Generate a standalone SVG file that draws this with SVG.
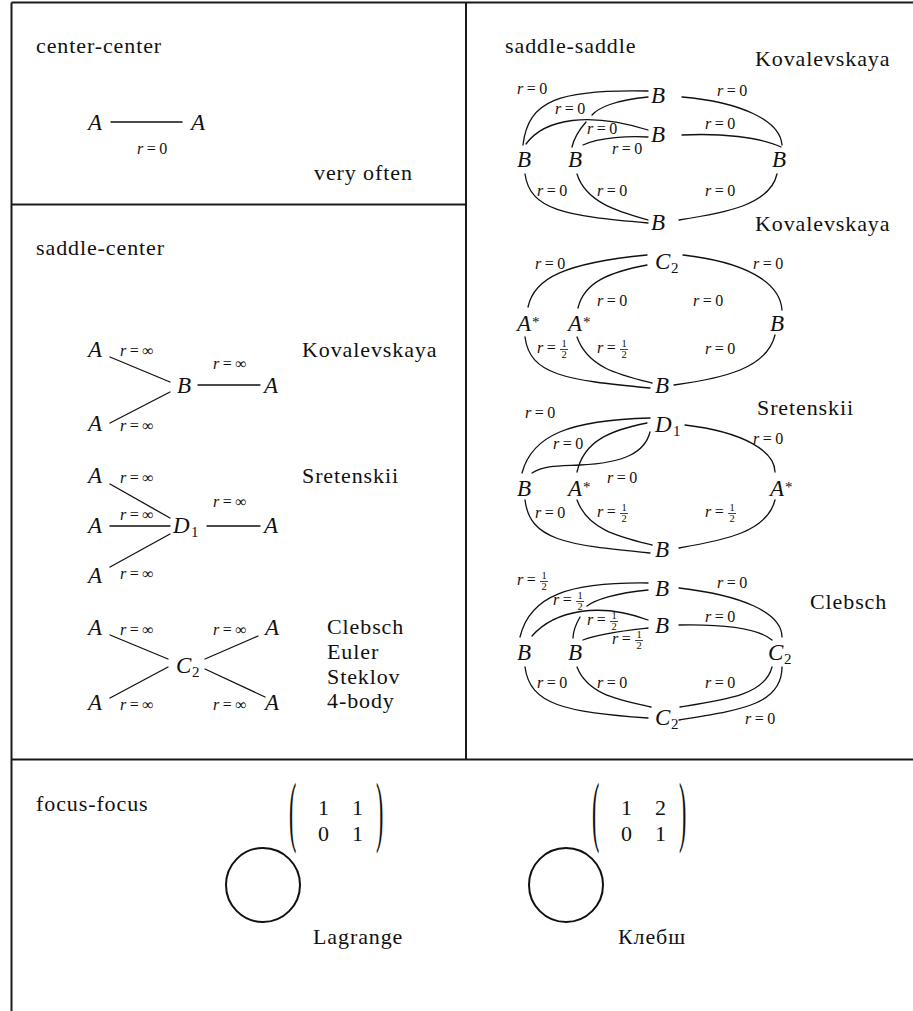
<svg xmlns="http://www.w3.org/2000/svg" width="913" height="1011" viewBox="0 0 913 1011" font-family="Liberation Serif">
<style>
.fl{stroke:#1a1a1a;stroke-width:2;fill:none}
.e{stroke:#111;stroke-width:1.3;fill:none;stroke-linecap:round}
.bar{stroke:#111;stroke-width:0.8}
.ring{fill:none;stroke:#111;stroke-width:2}
</style>
<rect width="913" height="1011" fill="#fff"/>
<g id="frame">
<path class="fl" d="M11.5,2.5 H913 M11.5,2.5 V1011 M466,2.5 V759.5 M11.5,204.5 H466 M11.5,759.5 H913"/>
</g>
<g id="titles" font-family="Liberation Serif" font-size="22" letter-spacing="0.9" fill="#111">
<text id="t-cc" font-family="Liberation Serif" x="36" y="53">center-center</text>
<text id="t-vo" font-family="Liberation Serif" x="314" y="180">very often</text>
<text id="t-sc" font-family="Liberation Serif" x="36" y="255">saddle-center</text>
<text id="t-kov1" font-family="Liberation Serif" x="302" y="357">Kovalevskaya</text>
<text id="t-sre1" font-family="Liberation Serif" x="302" y="483">Sretenskii</text>
<text id="t-cl1" font-family="Liberation Serif" x="327" y="634">Clebsch</text>
<text id="t-eu" font-family="Liberation Serif" x="327" y="659">Euler</text>
<text id="t-st" font-family="Liberation Serif" x="327" y="684">Steklov</text>
<text id="t-4b" font-family="Liberation Serif" x="327" y="708">4-body</text>
<text id="t-ss" font-family="Liberation Serif" x="505" y="53">saddle-saddle</text>
<text id="t-kov2" font-family="Liberation Serif" x="755" y="66">Kovalevskaya</text>
<text id="t-kov3" font-family="Liberation Serif" x="755" y="231">Kovalevskaya</text>
<text id="t-sre2" font-family="Liberation Serif" x="757" y="415">Sretenskii</text>
<text id="t-cl2" font-family="Liberation Serif" x="810" y="609">Clebsch</text>
<text id="t-ff" font-family="Liberation Serif" x="36" y="811">focus-focus</text>
</g>
<g id="connectors">
<path class="e" d="M111,122 H182"/>
<path class="e" d="M110,357 L170,382 M110,423 L170,392 M198,385 H260"/>
<path class="e" d="M110,484 L170,518 M110,526 H170 M110,567 L170,534 M207,526 H260"/>
<path class="e" d="M110,635 L168,659 M110,698 L168,667 M205,659 L258,636 M205,669 L265,697"/>
<path class="e" d="M523,145 C528,100 560,89 648,91"/>
<path class="e" d="M648,97 C615,100 598,108 592,115"/>
<path class="e" d="M586,122 C579,130 574,138 572,147"/>
<path class="e" d="M526,144 C545,118 590,112 648,130"/>
<path class="e" d="M583,145 C600,137 630,136 648,137"/>
<path class="e" d="M682,135 C720,133 760,137 781,147"/>
<path class="e" d="M682,97 C740,102 780,120 782,145"/>
<path class="e" d="M525,174 C530,210 565,216 648,223"/>
<path class="e" d="M577,174 C586,203 620,212 648,220"/>
<path class="e" d="M777,174 C770,205 725,213 679,220"/>
<path class="e" d="M528,307 C534,278 565,263 647,255"/>
<path class="e" d="M578,308 C584,282 610,272 647,265"/>
<path class="e" d="M683,255 C745,262 780,282 782,310"/>
<path class="e" d="M525,337 C530,375 565,380 650,388"/>
<path class="e" d="M577,337 C588,368 620,375 652,383"/>
<path class="e" d="M775,335 C767,368 725,378 674,385"/>
<path class="e" d="M522,473 C532,435 570,420 650,418"/>
<path class="e" d="M577,472 C584,440 612,430 647,423"/>
<path class="e" d="M532,473 C545,465 560,466 580,465 C625,463 645,452 650,432"/>
<path class="e" d="M685,425 C745,432 775,452 775,472"/>
<path class="e" d="M525,500 C530,540 565,545 650,553"/>
<path class="e" d="M577,500 C588,530 620,537 652,545"/>
<path class="e" d="M775,500 C767,532 725,540 679,548"/>
<path class="e" d="M520,637 C530,595 570,582 648,583"/>
<path class="e" d="M648,590 C615,593 595,600 587,606"/>
<path class="e" d="M580,617 C576,624 573,631 573,638"/>
<path class="e" d="M532,636 C555,610 600,602 648,620"/>
<path class="e" d="M583,640 C600,633 630,630 648,628"/>
<path class="e" d="M679,625 C730,624 760,630 772,640"/>
<path class="e" d="M679,588 C740,595 782,612 782,637"/>
<path class="e" d="M525,667 C530,705 565,712 648,718"/>
<path class="e" d="M577,667 C588,695 620,700 651,707"/>
<path class="e" d="M772,667 C765,695 725,700 680,707"/>
<path class="e" d="M782,667 C782,705 740,710 679,720"/>
</g>
<g id="edge-labels" font-family="Liberation Serif" font-size="16" letter-spacing="3.5" fill="#111">
<text font-family="Liberation Serif" x="137" y="154"><tspan font-style="italic">r</tspan>=0</text>
<text font-family="Liberation Serif" x="120" y="356"><tspan font-style="italic">r</tspan>=∞</text>
<text font-family="Liberation Serif" x="213" y="369"><tspan font-style="italic">r</tspan>=∞</text>
<text font-family="Liberation Serif" x="120" y="431"><tspan font-style="italic">r</tspan>=∞</text>
<text font-family="Liberation Serif" x="120" y="483"><tspan font-style="italic">r</tspan>=∞</text>
<text font-family="Liberation Serif" x="120" y="520"><tspan font-style="italic">r</tspan>=∞</text>
<text font-family="Liberation Serif" x="213" y="507"><tspan font-style="italic">r</tspan>=∞</text>
<text font-family="Liberation Serif" x="120" y="579"><tspan font-style="italic">r</tspan>=∞</text>
<text font-family="Liberation Serif" x="120" y="635"><tspan font-style="italic">r</tspan>=∞</text>
<text font-family="Liberation Serif" x="213" y="635"><tspan font-style="italic">r</tspan>=∞</text>
<text font-family="Liberation Serif" x="120" y="710"><tspan font-style="italic">r</tspan>=∞</text>
<text font-family="Liberation Serif" x="213" y="710"><tspan font-style="italic">r</tspan>=∞</text>
<text font-family="Liberation Serif" x="517" y="94"><tspan font-style="italic">r</tspan>=0</text>
<text font-family="Liberation Serif" x="555" y="114"><tspan font-style="italic">r</tspan>=0</text>
<text font-family="Liberation Serif" x="587" y="134"><tspan font-style="italic">r</tspan>=0</text>
<text font-family="Liberation Serif" x="612" y="154"><tspan font-style="italic">r</tspan>=0</text>
<text font-family="Liberation Serif" x="705" y="129"><tspan font-style="italic">r</tspan>=0</text>
<text font-family="Liberation Serif" x="717" y="96"><tspan font-style="italic">r</tspan>=0</text>
<text font-family="Liberation Serif" x="537" y="196"><tspan font-style="italic">r</tspan>=0</text>
<text font-family="Liberation Serif" x="597" y="196"><tspan font-style="italic">r</tspan>=0</text>
<text font-family="Liberation Serif" x="705" y="196"><tspan font-style="italic">r</tspan>=0</text>
<text font-family="Liberation Serif" x="535" y="269"><tspan font-style="italic">r</tspan>=0</text>
<text font-family="Liberation Serif" x="753" y="269"><tspan font-style="italic">r</tspan>=0</text>
<text font-family="Liberation Serif" x="597" y="306"><tspan font-style="italic">r</tspan>=0</text>
<text font-family="Liberation Serif" x="693" y="306"><tspan font-style="italic">r</tspan>=0</text>
<text font-family="Liberation Serif" x="705" y="354"><tspan font-style="italic">r</tspan>=0</text>
<text font-family="Liberation Serif" x="525" y="418"><tspan font-style="italic">r</tspan>=0</text>
<text font-family="Liberation Serif" x="553" y="449"><tspan font-style="italic">r</tspan>=0</text>
<text font-family="Liberation Serif" x="607" y="483"><tspan font-style="italic">r</tspan>=0</text>
<text font-family="Liberation Serif" x="753" y="444"><tspan font-style="italic">r</tspan>=0</text>
<text font-family="Liberation Serif" x="535" y="518"><tspan font-style="italic">r</tspan>=0</text>
<text font-family="Liberation Serif" x="705" y="622"><tspan font-style="italic">r</tspan>=0</text>
<text font-family="Liberation Serif" x="717" y="588"><tspan font-style="italic">r</tspan>=0</text>
<text font-family="Liberation Serif" x="537" y="688"><tspan font-style="italic">r</tspan>=0</text>
<text font-family="Liberation Serif" x="597" y="688"><tspan font-style="italic">r</tspan>=0</text>
<text font-family="Liberation Serif" x="705" y="688"><tspan font-style="italic">r</tspan>=0</text>
<text font-family="Liberation Serif" x="745" y="724"><tspan font-style="italic">r</tspan>=0</text>
<text font-family="Liberation Serif" x="537" y="353"><tspan font-style="italic">r</tspan>=</text>
<text font-family="Liberation Serif" x="597" y="353"><tspan font-style="italic">r</tspan>=</text>
<text font-family="Liberation Serif" x="597" y="517"><tspan font-style="italic">r</tspan>=</text>
<text font-family="Liberation Serif" x="705" y="517"><tspan font-style="italic">r</tspan>=</text>
<text font-family="Liberation Serif" x="517" y="585"><tspan font-style="italic">r</tspan>=</text>
<text font-family="Liberation Serif" x="553" y="605"><tspan font-style="italic">r</tspan>=</text>
<text font-family="Liberation Serif" x="587" y="625"><tspan font-style="italic">r</tspan>=</text>
<text font-family="Liberation Serif" x="612" y="644"><tspan font-style="italic">r</tspan>=</text>
</g>
<g id="fractions" font-family="Liberation Serif" font-size="10.5" text-anchor="middle" fill="#111">
<text font-family="Liberation Serif" x="564" y="347">1</text><line class="bar" x1="560" y1="349.5" x2="568" y2="349.5"/><text font-family="Liberation Serif" x="564" y="358">2</text>
<text font-family="Liberation Serif" x="624" y="347">1</text><line class="bar" x1="620" y1="349.5" x2="628" y2="349.5"/><text font-family="Liberation Serif" x="624" y="358">2</text>
<text font-family="Liberation Serif" x="624" y="511">1</text><line class="bar" x1="620" y1="513.5" x2="628" y2="513.5"/><text font-family="Liberation Serif" x="624" y="522">2</text>
<text font-family="Liberation Serif" x="732" y="511">1</text><line class="bar" x1="728" y1="513.5" x2="736" y2="513.5"/><text font-family="Liberation Serif" x="732" y="522">2</text>
<text font-family="Liberation Serif" x="544" y="579">1</text><line class="bar" x1="540" y1="581.5" x2="548" y2="581.5"/><text font-family="Liberation Serif" x="544" y="590">2</text>
<text font-family="Liberation Serif" x="580" y="599">1</text><line class="bar" x1="576" y1="601.5" x2="584" y2="601.5"/><text font-family="Liberation Serif" x="580" y="610">2</text>
<text font-family="Liberation Serif" x="614" y="619">1</text><line class="bar" x1="610" y1="621.5" x2="618" y2="621.5"/><text font-family="Liberation Serif" x="614" y="630">2</text>
<text font-family="Liberation Serif" x="639" y="638">1</text><line class="bar" x1="635" y1="640.5" x2="643" y2="640.5"/><text font-family="Liberation Serif" x="639" y="649">2</text>
</g>
<g id="nodes" font-family="Liberation Serif" font-size="23" font-style="italic" fill="#111">
<g id="cc-A1"><text font-family="Liberation Serif" x="88" y="130">A</text></g>
<g id="cc-A2"><text font-family="Liberation Serif" x="191" y="130">A</text></g>
<g id="sk-A1"><text font-family="Liberation Serif" x="88" y="357">A</text></g>
<g id="sk-A2"><text font-family="Liberation Serif" x="88" y="431">A</text></g>
<g id="sk-B"><text font-family="Liberation Serif" x="177" y="393">B</text></g>
<g id="sk-A3"><text font-family="Liberation Serif" x="264" y="393">A</text></g>
<g id="ss-A1"><text font-family="Liberation Serif" x="88" y="483">A</text></g>
<g id="ss-A2"><text font-family="Liberation Serif" x="88" y="533">A</text></g>
<g id="ss-A3"><text font-family="Liberation Serif" x="88" y="583">A</text></g>
<g id="ss-D1"><text font-family="Liberation Serif" x="173" y="533">D</text><text font-family="Liberation Serif" x="191" y="537" font-size="15" font-style="normal">1</text></g>
<g id="ss-A4"><text font-family="Liberation Serif" x="264" y="533">A</text></g>
<g id="sc-A1"><text font-family="Liberation Serif" x="88" y="635">A</text></g>
<g id="sc-A2"><text font-family="Liberation Serif" x="88" y="710">A</text></g>
<g id="sc-C2"><text font-family="Liberation Serif" x="176" y="673">C</text><text font-family="Liberation Serif" x="192" y="677" font-size="15" font-style="normal">2</text></g>
<g id="sc-A3"><text font-family="Liberation Serif" x="265" y="635">A</text></g>
<g id="sc-A4"><text font-family="Liberation Serif" x="265" y="710">A</text></g>
<g id="k-Bt"><text font-family="Liberation Serif" x="651" y="103">B</text></g>
<g id="k-Bm"><text font-family="Liberation Serif" x="651" y="142">B</text></g>
<g id="k-Bl"><text font-family="Liberation Serif" x="517" y="167">B</text></g>
<g id="k-Bl2"><text font-family="Liberation Serif" x="568" y="167">B</text></g>
<g id="k-Br"><text font-family="Liberation Serif" x="772" y="167">B</text></g>
<g id="k-Bb"><text font-family="Liberation Serif" x="651" y="230">B</text></g>
<g id="k2-C2"><text font-family="Liberation Serif" x="655" y="269">C</text><text font-family="Liberation Serif" x="671" y="273" font-size="15" font-style="normal">2</text></g>
<g id="k2-A1"><text font-family="Liberation Serif" x="517" y="331">A</text><text font-family="Liberation Serif" x="532" y="327" font-size="15" font-style="normal">*</text></g>
<g id="k2-A2"><text font-family="Liberation Serif" x="568" y="331">A</text><text font-family="Liberation Serif" x="583" y="327" font-size="15" font-style="normal">*</text></g>
<g id="k2-Br"><text font-family="Liberation Serif" x="770" y="331">B</text></g>
<g id="k2-Bb"><text font-family="Liberation Serif" x="655" y="393">B</text></g>
<g id="s-D1"><text font-family="Liberation Serif" x="655" y="432">D</text><text font-family="Liberation Serif" x="673" y="436" font-size="15" font-style="normal">1</text></g>
<g id="s-Bl"><text font-family="Liberation Serif" x="517" y="496">B</text></g>
<g id="s-A1"><text font-family="Liberation Serif" x="568" y="496">A</text><text font-family="Liberation Serif" x="583" y="492" font-size="15" font-style="normal">*</text></g>
<g id="s-A2"><text font-family="Liberation Serif" x="770" y="496">A</text><text font-family="Liberation Serif" x="785" y="492" font-size="15" font-style="normal">*</text></g>
<g id="s-Bb"><text font-family="Liberation Serif" x="655" y="557">B</text></g>
<g id="c-Bt"><text font-family="Liberation Serif" x="655" y="596">B</text></g>
<g id="c-Bm"><text font-family="Liberation Serif" x="655" y="633">B</text></g>
<g id="c-Bl"><text font-family="Liberation Serif" x="517" y="660">B</text></g>
<g id="c-Bl2"><text font-family="Liberation Serif" x="568" y="660">B</text></g>
<g id="c-C2r"><text font-family="Liberation Serif" x="768" y="660">C</text><text font-family="Liberation Serif" x="784" y="664" font-size="15" font-style="normal">2</text></g>
<g id="c-C2b"><text font-family="Liberation Serif" x="655" y="725">C</text><text font-family="Liberation Serif" x="671" y="729" font-size="15" font-style="normal">2</text></g>
</g>
<g id="ff-lagrange" font-family="Liberation Serif" font-size="22" fill="#111">
<circle class="ring" cx="263" cy="885" r="37"/>
<text font-family="Liberation Serif" transform="translate(289,837) scale(1,3.6)">(</text>
<text font-family="Liberation Serif" x="318" y="815">1</text><text font-family="Liberation Serif" x="352" y="815">1</text>
<text font-family="Liberation Serif" x="318" y="841">0</text><text font-family="Liberation Serif" x="352" y="841">1</text>
<text font-family="Liberation Serif" transform="translate(376,837) scale(1,3.6)">)</text>
<text font-family="Liberation Serif" x="313" y="944" letter-spacing="0.9">Lagrange</text>
</g>
<g id="ff-clebsch" font-family="Liberation Serif" font-size="22" fill="#111">
<circle class="ring" cx="566" cy="885" r="37"/>
<text font-family="Liberation Serif" transform="translate(592,837) scale(1,3.6)">(</text>
<text font-family="Liberation Serif" x="621" y="815">1</text><text font-family="Liberation Serif" x="655" y="815">2</text>
<text font-family="Liberation Serif" x="621" y="841">0</text><text font-family="Liberation Serif" x="655" y="841">1</text>
<text font-family="Liberation Serif" transform="translate(679,837) scale(1,3.6)">)</text>
<text font-family="Liberation Serif" x="618" y="944" letter-spacing="0.9">Клебш</text>
</g>
</svg>
